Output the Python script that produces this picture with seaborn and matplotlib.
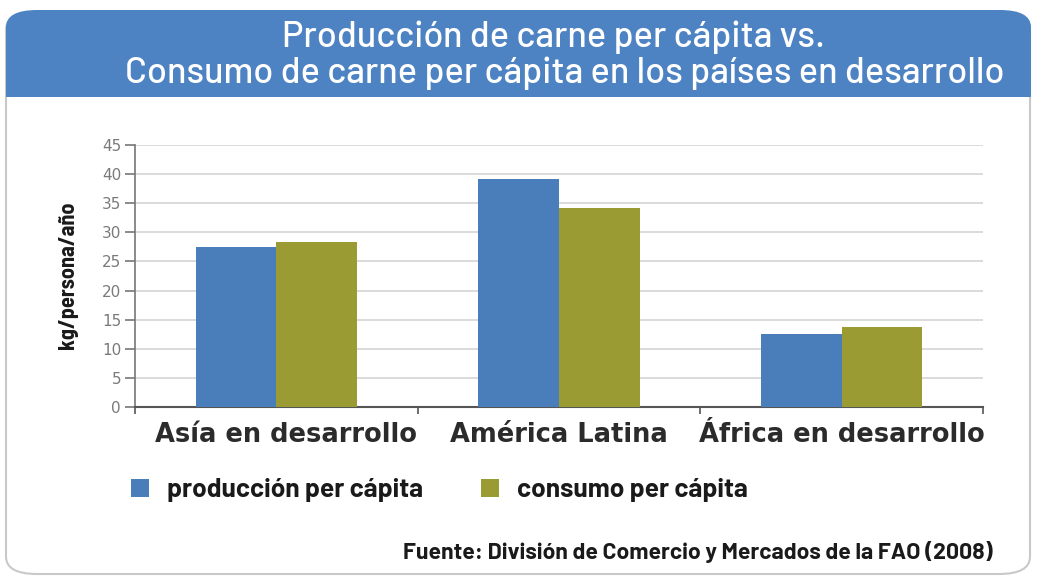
import matplotlib
matplotlib.use("Agg")
import matplotlib.pyplot as plt
from matplotlib.patches import FancyBboxPatch, Rectangle
from matplotlib.transforms import ScaledTranslation
import pandas as pd
import seaborn as sns

# Data (kg per person per year)
regiones = ["Asía en desarrollo", "América Latina", "África en desarrollo"]
produccion = [27.4, 39.1, 12.5]
consumo = [28.4, 34.2, 13.8]
series = ["producción per cápita", "consumo per cápita"]
yticks = [0, 5, 10, 15, 20, 25, 30, 35, 40, 45]

titulo_1 = "Producción de carne per cápita vs."
titulo_2 = "Consumo de carne per cápita en los países en desarrollo"
fuente = "Fuente: División de Comercio y Mercados de la FAO (2008)"
ylabel = "kg/persona/año"

AZUL = "#4a7ebb"
OLIVA = "#9b9b33"
BANNER = "#4d82c3"

df = pd.DataFrame({
    "region": regiones * 2,
    "valor": produccion + consumo,
    "serie": [series[0]] * 3 + [series[1]] * 3,
})

sns.set_theme(style="white")
plt.rcParams["font.family"] = ["DejaVu Sans"]

DIN = ["Barlow", "DejaVu Sans"]
NARROW = ["Barlow Semi Condensed", "DejaVu Sans"]

W, H = 1038, 578
fig = plt.figure(figsize=(W / 100, H / 100), dpi=100)
fig.patch.set_facecolor("white")


def fx(x):
    return x / W


def fy(y):
    return 1 - y / H


# Outer rounded frame
frame = FancyBboxPatch((fx(6), fy(574)), fx(1030) - fx(6), fy(12) - fy(574),
                       boxstyle="round,pad=0,rounding_size=0.03",
                       transform=fig.transFigure, facecolor="white",
                       edgecolor="#c9c9c9", linewidth=1.5, zorder=0)
fig.add_artist(frame)

# Title banner: rounded top, square bottom
banner = FancyBboxPatch((fx(6), fy(97)), fx(1031) - fx(6), fy(10) - fy(97),
                        boxstyle="round,pad=0,rounding_size=0.03",
                        transform=fig.transFigure, facecolor=BANNER,
                        edgecolor="none", zorder=1)
fig.add_artist(banner)
fig.add_artist(Rectangle((fx(6), fy(97)), fx(1031) - fx(6), fy(60) - fy(97),
                         transform=fig.transFigure, facecolor=BANNER,
                         edgecolor="none", zorder=1))

fig.text(fx(554), fy(37), titulo_1, ha="center", va="center", color="white",
         fontsize=26, fontweight=500, family=DIN, zorder=2)
fig.text(fx(565), fy(73), titulo_2, ha="center", va="center", color="white",
         fontsize=26, fontweight=500, family=DIN, zorder=2)

# Plot area
ax = fig.add_axes([fx(135), fy(407), fx(983) - fx(135), fy(145) - fy(407)])
ax.set_facecolor("none")

sns.barplot(data=df, x="region", y="valor", hue="serie", order=regiones,
            hue_order=series, palette=[AZUL, OLIVA], width=0.57, gap=0,
            saturation=1, ax=ax, zorder=3, edgecolor="none", linewidth=0)

ax.set_ylim(0, 45)
ax.set_xlim(-0.5, 2.5)
ax.set_yticks(yticks)
ax.set_yticklabels([str(t) for t in yticks])
ax.yaxis.grid(True, color="#d4d4d4", linewidth=1.2, zorder=0)
ax.set_axisbelow(True)

# Category boundaries as major ticks, category names as minor ticks
ax.set_xticks([-0.5, 0.5, 1.5, 2.5])
ax.set_xticklabels([])
ax.set_xticks([0, 1, 2], minor=True)
ax.set_xticklabels(regiones, minor=True, fontsize=18.5, fontweight="bold",
                   color="#2b2b2b")
ax.tick_params(axis="x", which="minor", length=0, pad=11)
ax.tick_params(axis="x", which="major", length=5, width=1.2, color="#555555",
               direction="out", bottom=True)
ax.tick_params(axis="y", length=7, width=1.2, color="#777777", direction="out",
               labelsize=11, labelcolor="#7a7a7a", pad=3, left=True)

# First category label sits a little right of its slot
first = ax.get_xticklabels(minor=True)[0]
first.set_transform(first.get_transform()
                    + ScaledTranslation(10 / 100, 0, fig.dpi_scale_trans))

for s in ["top", "right"]:
    ax.spines[s].set_visible(False)
ax.spines["left"].set_color("#777777")
ax.spines["left"].set_linewidth(1.2)
ax.spines["bottom"].set_color("#555555")
ax.spines["bottom"].set_linewidth(1.5)

ax.set_xlabel("")
ax.set_ylabel("")
fig.text(fx(68), fy(275), ylabel, rotation=90, ha="center", va="center",
         fontsize=16, fontweight="bold", color="#1a1a1a", family=NARROW)

# Legend below the plot
handles, labels = ax.get_legend_handles_labels()
ax.legend_.remove()
fig.legend(handles, labels, loc="center left",
           bbox_to_anchor=(fx(107), fy(490)), ncol=2, frameon=False,
           handlelength=0.7, handleheight=0.7, handletextpad=0.66,
           columnspacing=2.2,
           prop={"family": DIN, "weight": "bold", "size": 19})
for t in fig.legends[0].get_texts():
    t.set_color("#1a1a1a")

fig.text(fx(993), fy(552), fuente, ha="right", va="center", fontsize=16.5,
         fontweight="bold", color="#1a1a1a", family=DIN)

fig.savefig("out.png", dpi=100, facecolor="white")
